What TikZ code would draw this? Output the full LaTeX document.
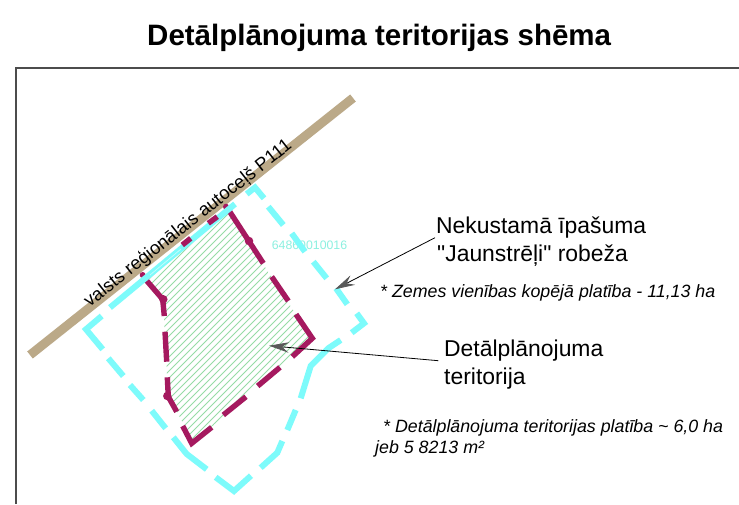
\documentclass[tikz,border=0pt]{standalone}
\usepackage{fontspec}
\setmainfont{Liberation Sans}
\newfontfamily\qfont{Liberation Sans}
\usetikzlibrary{arrows.meta}
\definecolor{roadtan}{HTML}{BBA988}
\definecolor{cyanb}{HTML}{7DFBFB}
\definecolor{cyanl}{HTML}{C8FDFD}
\definecolor{magb}{HTML}{A5195F}
\definecolor{hatch}{HTML}{96DCA5}
\definecolor{numc}{HTML}{8CF0E0}
\tikzset{
  x=1pt,y=-1pt,
  lbl/.style={anchor=base west,inner sep=0pt,font=\fontsize{22.9}{26}\selectfont},
  note/.style={anchor=base west,inner sep=0pt,font=\fontsize{17.8}{20}\selectfont\itshape},
  leader/.style={draw=black,line width=0.8pt,-{Stealth[length=20pt,width=10.5pt,inset=7pt,fill=black!65,color=black!65]}},
  cyanline/.style={draw=cyanb,line width=6pt,line join=miter},
  magline/.style={draw=magb,line width=5.4pt,line join=miter},
  magdot/.style={circle,fill=magb,inner sep=0pt,minimum size=8.5pt},
}
\begin{document}
\begin{tikzpicture}
\useasboundingbox (0,0) rectangle (739,504);
\fill[white] (0,0) rectangle (739,504);
\draw[black!70,line width=1.2pt] (16,504) -- (16,68) -- (739,68);
\node[lbl,font=\fontsize{29.5}{32}\selectfont\bfseries] (title) at (147,45) {Detālplānojuma teritorijas shēma};
% road
\coordinate (r1) at (30,355); \coordinate (r2) at (353,98);
\draw[roadtan,line width=9pt] (r1) -- (r2);
% hatching
\begin{scope}
\clip (228,207) -- (248,241) -- (312,339) -- (193,443) -- (168,394) -- (163,299) -- (143,277) -- cycle;
\foreach \k in {0,7,...,420} \draw[hatch,line width=1pt] (130,{200+\k}) -- ++(300,-300);
\end{scope}
\node[inner sep=0pt,text=numc,font=\fontsize{12.3}{14}\selectfont] (num) at (309.5,245) {64860010016};
% magenta boundary
\draw[magline] (228,209) -- (263.3,263.3);
\draw[magline] (271.7,276.7) -- (288.3,301);
\draw[magline] (296,314.3) -- (312.3,338.3) -- (292.3,356.7);
\draw[magline] (280,367.3) -- (257.7,386);
\draw[magline] (246,396.7) -- (223.3,415);
\draw[magline] (211.7,427.3) -- (191.7,443.3) -- (182.7,426);
\draw[magline] (176.7,411.7) -- (168.3,396.7) -- (167.3,377.3);
\draw[magline] (165,331.7) -- (166.7,361.7);
\draw[magline] (164.3,316) -- (162.7,299.3) -- (143.5,277);
\fill[magb] (226,206.7) circle (3pt);
\fill[magb] (142.7,275) circle (3pt);
\node[magdot] (d1) at (249,241) {};
\node[magdot] (d2) at (163.3,299.3) {};
\node[magdot] (d3) at (167.3,396) {};
% cyan boundary
\draw[cyanline] (246.7,194) -- (255,187.5) -- (264,198.3);
\draw[cyanline] (268.3,206.7) -- (283.3,225);
\draw[cyanline] (291.7,233.3) -- (305,251.7);
\draw[cyanline] (313.3,261.7) -- (326.7,278.3);
\draw[cyanline] (336,288.3) -- (347.3,304.3);
\draw[cyanline] (356.7,313.3) -- (364,323.3) -- (351.7,332.7);
\draw[cyanline] (340.7,340) -- (328.3,348.3) -- (310.7,366) -- (300.7,398.3);
\draw[cyanline] (295.7,410) -- (287.3,430);
\draw[cyanline] (282.3,441) -- (277.3,452.7) -- (260.7,467.7);
\draw[cyanline] (251,475.7) -- (234,491) -- (215.7,477.3);
\draw[cyanline] (206.7,469.3) -- (186.7,454) -- (173.3,437.3);
\draw[cyanline] (165.7,428.3) -- (151.7,410.7);
\draw[cyanline] (143.3,400) -- (130,385);
\draw[cyanline] (123.3,376) -- (108.3,358.3);
\draw[cyanline] (102.7,349.3) -- (86,329.3) -- (101.7,316);
\draw[cyanline] (110,307.5) -- (235,204);
\draw[cyanl,line width=0.7pt] (150,275) -- (181,249);
% magenta over cyan
\draw[magline] (182.3,245) -- (190.7,238.3);
\draw[magline] (208.3,223.3) -- (217.3,216.7);
% texts
\node[anchor=base west,inner sep=0pt,rotate=38.3,font=\fontsize{18.3}{20}\selectfont] (road) at (89.5,308) {valsts reģionālais autoceļš P111};
\node[lbl] (a) at (436,233) {Nekustamā īpašuma};
\node[lbl] (b) at (437,261) {{\qfont"}Jaunstrēļi{\qfont"} robeža};
\node[note] (c) at (380,297) {* Zemes vienības kopējā platība - 11,13 ha};
\node[lbl] (d) at (444,356) {Detālplānojuma};
\node[lbl] (e) at (444,384) {teritorija};
\node[note] (f) at (383,432) {* Detālplānojuma teritorijas platība \textasciitilde{} 6,0 ha};
\node[note] (g) at (375,453) {jeb 5 8213 m²};
% leaders
\coordinate (a0) at (435,237.7); \coordinate (a1) at (335,289.3);
\coordinate (b0) at (438.3,360.7); \coordinate (b1) at (269,345.7);
\draw[leader] (a0) -- (a1);
\draw[leader] (b0) -- (b1);
\end{tikzpicture}
\end{document}
